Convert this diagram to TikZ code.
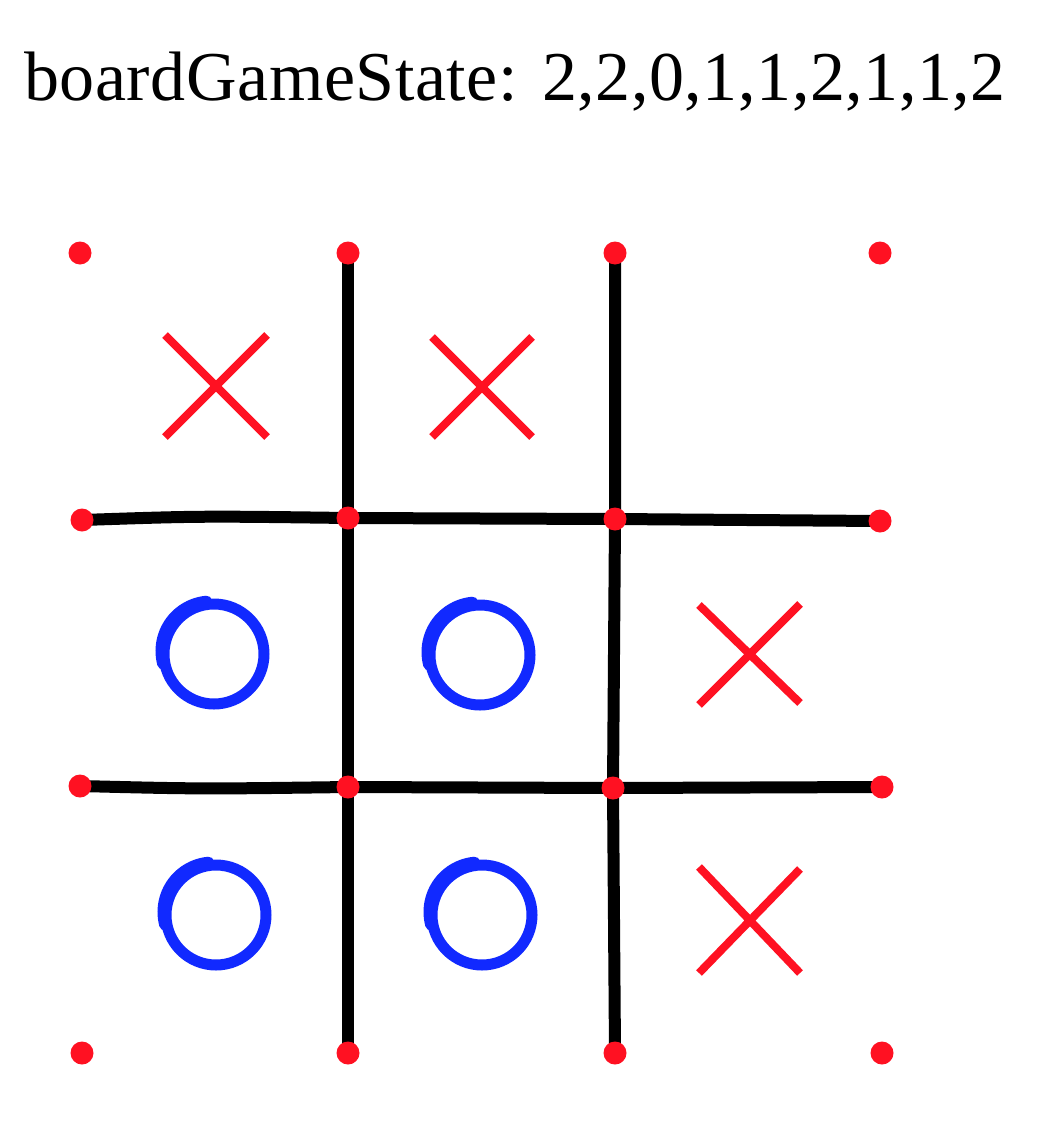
\documentclass[tikz,border=0pt]{standalone}
\usepackage{fontspec}
\setmainfont{Liberation Serif}
\definecolor{penred}{RGB}{255,17,34}
\definecolor{penblue}{RGB}{17,41,255}
\tikzset{dot/.style = {fill=penred, circle, inner sep = 0, minimum size = 23}}
\tikzset{gridline/.style = {line width=12pt, line cap=round, line join=round}}
\tikzset{xmark/.style = {draw=penred, line width=8pt}}
\tikzset{omark/.style = {draw=penblue, line width=11pt}}

\begin{document}
\begin{tikzpicture}[x=1pt, y=-1pt]
    \useasboundingbox (0,0) rectangle (1050,1132);
    \node [anchor=base, font=\fontsize{70}{80}\selectfont\addfontfeatures{LetterSpace=0.8}] (title) at (515,100) {boardGameState: 2,2,0,1,1,2,1,1,2};

    % corner and crossing points
    \coordinate (p00) at (80,253);  \coordinate (p01) at (348,253); \coordinate (p02) at (615,253); \coordinate (p03) at (880,253);
    \coordinate (p10) at (82,520);  \coordinate (p11) at (348,518); \coordinate (p12) at (615,519); \coordinate (p13) at (880,521);
    \coordinate (p20) at (80,786);  \coordinate (p21) at (348,787); \coordinate (p22) at (613,788); \coordinate (p23) at (882,787);
    \coordinate (p30) at (82,1053); \coordinate (p31) at (348,1053); \coordinate (p32) at (615,1053); \coordinate (p33) at (882,1053);

    % grid
    \draw [gridline] (p10) .. controls (200,516) .. (p11) -- (p12) -- (p13);
    \draw [gridline] (p20) .. controls (200,789) .. (p21) -- (p22) -- (p23);
    \draw [gridline] (p01) -- (p11) -- (p21) -- (p31);
    \draw [gridline] (p02) -- (p12) -- (p22) -- (p32);

    \foreach \r in {0,...,3}
        \foreach \c in {0,...,3}
            \node [dot] (d\r\c) at (p\r\c) {};

    % X marks
    \draw [xmark] (165,335) -- (267,437) (165,437) -- (267,335);
    \draw [xmark] (432,337) -- (532,437) (432,437) -- (532,337);
    \draw [xmark] (699,605) -- (800,703) (699,705) -- (800,604);
    \draw [xmark] (699,867) -- (800,973) (699,973) -- (800,869);

    % O marks, thicker stroke on the upper left
    \foreach \cx/\cy in {214/654, 480/655, 216/915, 482/915} {
        \draw [omark] (\cx,\cy) circle [radius=50];
        \draw [omark, line cap=round] (\cx-3,\cy-3) ++(165:50) arc [start angle=165, end angle=265, radius=50];
    }
\end{tikzpicture}
\end{document}
